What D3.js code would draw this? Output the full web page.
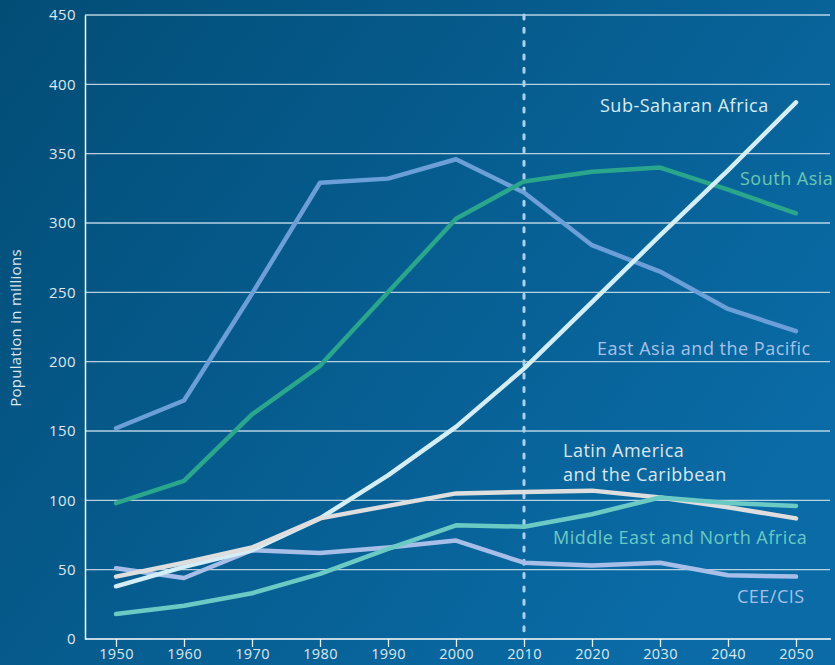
<!DOCTYPE html>
<html>
<head>
<meta charset="utf-8">
<script src="https://cdn.jsdelivr.net/npm/d3@7"></script>
<style>
  body { margin: 0; background: #045079; }
  svg { display: block; }
</style>
</head>
<body>
<div id="chart"></div>
<script>
// years on the x axis
var years = [1950, 1960, 1970, 1980, 1990, 2000, 2010, 2020, 2030, 2040, 2050];
var yTicks = [0, 50, 100, 150, 200, 250, 300, 350, 400, 450];

// population in millions
var ceeCis       = [51, 44, 64, 62, 66, 71, 55, 53, 55, 46, 45];
var eastAsia     = [152, 172, 249, 329, 332, 346, 322, 284, 265, 238, 222];
var southAsia    = [98, 114, 162, 197, 250, 303, 330, 337, 340, 324, 307];
var subSaharan   = [38, 52, 64, 87, 118, 153, 195, 243, 291, 338, 387];
var latinAmerica = [45, 55, 66, 87, 96, 105, 106, 107, 102, 95, 87];
var meNorthAfrica = [18, 24, 33, 47, 65, 82, 81, 90, 102, 98, 96];

var series = [
  { name: 'CEE/CIS', values: ceeCis, color: '#a7bfe8', text: '#a9c0e8', label: ['CEE/CIS'], lx: 737, ly: 603 },
  { name: 'East Asia and the Pacific', values: eastAsia, color: '#6c9fd8', text: '#a6c2e8', label: ['East Asia and the Pacific'], lx: 597, ly: 355 },
  { name: 'South Asia', values: southAsia, color: '#2aa68c', text: '#6cc8b2', label: ['South Asia'], lx: 740, ly: 185 },
  { name: 'Sub-Saharan Africa', values: subSaharan, color: '#d4eef8', text: '#d8ecf5', label: ['Sub-Saharan Africa'], lx: 600, ly: 112 },
  { name: 'Latin America and the Caribbean', values: latinAmerica, color: '#dedede', text: '#dde6ee', label: ['Latin America', 'and the Caribbean'], lx: 563, ly: 457 },
  { name: 'Middle East and North Africa', values: meNorthAfrica, color: '#6ccac4', text: '#6ccac2', label: ['Middle East and North Africa'], lx: 553, ly: 544 }
];

var width = 835, height = 665;
var font = 'Open Sans, sans-serif';
var svg = d3.select('#chart').append('svg')
  .attr('width', width)
  .attr('height', height);

// background gradient
var grad = svg.append('defs').append('linearGradient')
  .attr('id', 'bg').attr('x1', '0%').attr('y1', '0%').attr('x2', '100%').attr('y2', '60%');
grad.append('stop').attr('offset', '0%').attr('stop-color', '#024d76');
grad.append('stop').attr('offset', '100%').attr('stop-color', '#0a6ba6');
svg.append('rect').attr('width', width).attr('height', height).attr('fill', 'url(#bg)');

var x = d3.scaleLinear().domain([1950, 2050]).range([116, 796]);
var y = d3.scaleLinear().domain([0, 450]).range([639, 15]);
var left = 85, right = 830;

// gridlines
svg.append('g').selectAll('line')
  .data(yTicks.filter(function (d) { return d > 0; }))
  .enter().append('line')
  .attr('x1', left).attr('x2', right)
  .attr('y1', function (d) { return y(d); })
  .attr('y2', function (d) { return y(d); })
  .attr('stroke', '#d6e6f0')
  .attr('stroke-opacity', 0.85)
  .attr('stroke-width', 1.3);

// y axis labels
var yAxis = d3.axisLeft(y).tickValues(yTicks).tickSize(0).tickPadding(9);
var gy = svg.append('g').attr('transform', 'translate(' + left + ',0)').call(yAxis);
gy.select('.domain').attr('stroke', '#ffffff').attr('stroke-width', 1.5);
gy.selectAll('text')
  .style('font-family', font)
  .style('font-size', '15px')
  .style('letter-spacing', '0.4px')
  .attr('fill', '#dce8f0');

// x axis
var xAxis = d3.axisBottom(x).tickValues(years).tickSize(8).tickPadding(2).tickFormat(d3.format('d'));
var gx = svg.append('g').attr('transform', 'translate(0,' + y(0) + ')').call(xAxis);
gx.select('.domain').remove();
gx.append('line').attr('x1', left).attr('x2', right + 1).attr('y1', 0).attr('y2', 0)
  .attr('stroke', '#ffffff').attr('stroke-width', 1.5);
gx.selectAll('.tick line').attr('stroke', '#e6eef4').attr('stroke-width', 1.3);
gx.selectAll('text')
  .style('font-family', font)
  .style('font-size', '14.5px')
  .style('letter-spacing', '0.4px')
  .attr('fill', '#dce8f0');

// y axis title
svg.append('text')
  .attr('transform', 'translate(21,328) rotate(-90)')
  .attr('text-anchor', 'middle')
  .style('font-family', font)
  .style('font-size', '15px')
  .style('letter-spacing', '0.3px')
  .attr('fill', '#dce8f0')
  .text('Population in millions');

// 2010 marker
svg.append('line')
  .attr('x1', x(2010)).attr('x2', x(2010))
  .attr('y1', y(450)).attr('y2', y(0) - 4)
  .attr('stroke', '#a9d2ee')
  .attr('stroke-width', 3)
  .attr('stroke-linecap', 'round')
  .attr('stroke-dasharray', '4 9.3');

var line = d3.line()
  .x(function (d, i) { return x(years[i]); })
  .y(function (d) { return y(d); });

series.forEach(function (s) {
  svg.append('path')
    .attr('d', line(s.values))
    .attr('fill', 'none')
    .attr('stroke', s.color)
    .attr('stroke-width', 4.5)
    .attr('stroke-linejoin', 'round')
    .attr('stroke-linecap', 'round');
});

// series labels
series.forEach(function (s) {
  var t = svg.append('text')
    .attr('x', s.lx).attr('y', s.ly)
    .style('font-family', font)
    .style('font-size', '18px')
    .style('letter-spacing', '0.5px')
    .attr('fill', s.text);
  s.label.forEach(function (l, i) {
    t.append('tspan').attr('x', s.lx).attr('dy', i === 0 ? 0 : 24).text(l);
  });
});
</script>
</body>
</html>
